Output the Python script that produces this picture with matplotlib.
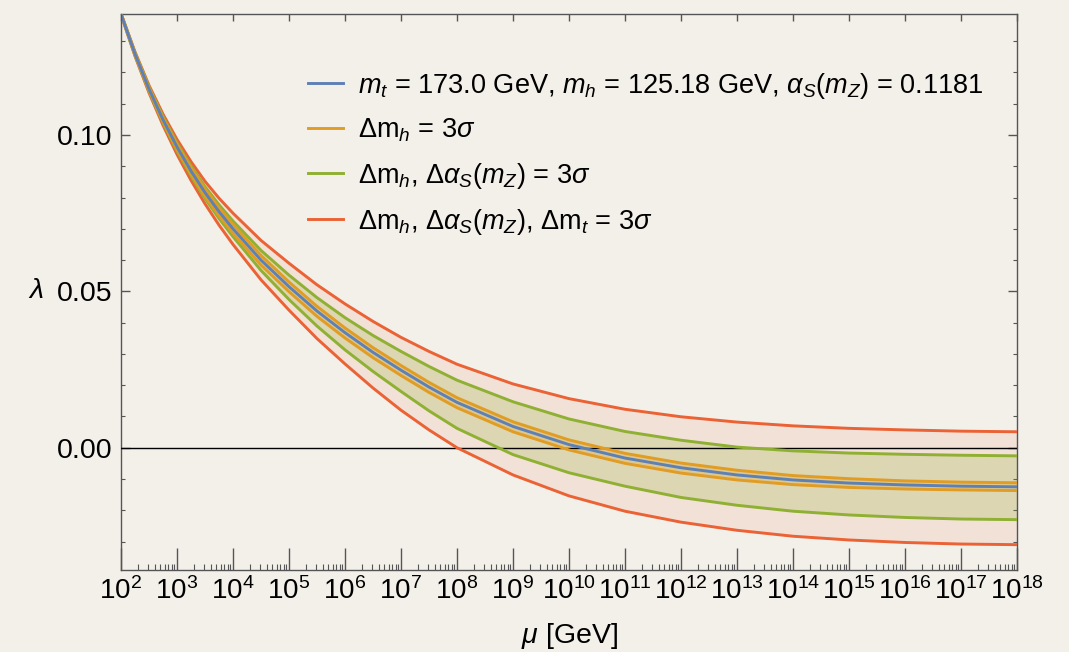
import numpy as np
import matplotlib
matplotlib.use("Agg")
import matplotlib.pyplot as plt
from matplotlib.ticker import LogLocator, NullFormatter, NullLocator, MultipleLocator, FixedLocator, FormatStrFormatter

# Mathematica-like look: Helvetica-ish font, math in the same family
plt.rcParams['font.family'] = 'Liberation Sans'
plt.rcParams['mathtext.fontset'] = 'custom'
plt.rcParams['mathtext.rm'] = 'Liberation Sans'
plt.rcParams['mathtext.it'] = 'Liberation Sans:italic'
plt.rcParams['mathtext.bf'] = 'Liberation Sans:bold'
plt.rcParams['mathtext.sf'] = 'Liberation Sans'

# log10(mu / GeV) sample points
mu_exp = [2, 2.25, 2.5, 2.75, 3, 3.25, 3.5, 3.75, 4, 4.5, 5, 5.5, 6, 6.5, 7, 7.5, 8,
          9, 10, 11, 12, 13, 14, 15, 16, 17, 18]

# central value
lam_central = [0.1387, 0.1259, 0.1147, 0.1049, 0.0962, 0.0885, 0.0816, 0.0755, 0.0700, 0.0600,
               0.0515, 0.0437, 0.0368, 0.0305, 0.0248, 0.0194, 0.0145, 0.0068, 0.0010, -0.0033,
               -0.0064, -0.0087, -0.0103, -0.0113, -0.0119, -0.0123, -0.0125]
# Delta m_h = 3 sigma
lam_mh_hi = [0.1388, 0.1261, 0.1151, 0.1055, 0.0970, 0.0895, 0.0828, 0.0768, 0.0714, 0.0615,
             0.0530, 0.0452, 0.0383, 0.0320, 0.0263, 0.0209, 0.0160, 0.0083, 0.0025, -0.0018,
             -0.0049, -0.0072, -0.0089, -0.0099, -0.0106, -0.0110, -0.0112]
lam_mh_lo = [0.1386, 0.1257, 0.1143, 0.1043, 0.0954, 0.0875, 0.0804, 0.0742, 0.0686, 0.0584,
             0.0499, 0.0420, 0.0351, 0.0288, 0.0231, 0.0177, 0.0128, 0.0051, -0.0007, -0.0050,
             -0.0081, -0.0103, -0.0118, -0.0127, -0.0132, -0.0135, -0.0137]
# Delta m_h, Delta alpha_s = 3 sigma
lam_as_hi = [0.1388, 0.1263, 0.1154, 0.1059, 0.0975, 0.0901, 0.0835, 0.0777, 0.0725, 0.0631,
             0.0552, 0.0480, 0.0416, 0.0359, 0.0308, 0.0260, 0.0216, 0.0147, 0.0092, 0.0052,
             0.0024, 0.0002, -0.0010, -0.0017, -0.0021, -0.0024, -0.0026]
lam_as_lo = [0.1386, 0.1255, 0.1140, 0.1039, 0.0949, 0.0869, 0.0797, 0.0733, 0.0675, 0.0567,
             0.0474, 0.0389, 0.0313, 0.0244, 0.0180, 0.0118, 0.0062, -0.0022, -0.0080, -0.0123,
             -0.0159, -0.0184, -0.0203, -0.0215, -0.0223, -0.0228, -0.0230]
# Delta m_h, Delta alpha_s, Delta m_t = 3 sigma
lam_mt_hi = [0.1389, 0.1266, 0.1159, 0.1067, 0.0986, 0.0915, 0.0852, 0.0798, 0.0750, 0.0663,
             0.0590, 0.0521, 0.0460, 0.0404, 0.0353, 0.0308, 0.0267, 0.0204, 0.0157, 0.0123,
             0.0099, 0.0082, 0.0070, 0.0062, 0.0057, 0.0053, 0.0051]
lam_mt_lo = [0.1385, 0.1252, 0.1135, 0.1031, 0.0938, 0.0855, 0.0780, 0.0712, 0.0650, 0.0537,
             0.0440, 0.0349, 0.0268, 0.0191, 0.0120, 0.0057, 0.0000, -0.0087, -0.0154, -0.0203,
             -0.0238, -0.0264, -0.0283, -0.0295, -0.0303, -0.0308, -0.0310]

labels = [r'$m_t$ = 173.0 GeV, $m_h$ = 125.18 GeV, $\alpha_S(m_Z)$ = 0.1181',
          r'$\Delta\mathrm{m}_h$ = 3$\sigma$',
          r'$\Delta\mathrm{m}_h$, $\Delta\alpha_S(m_Z)$ = 3$\sigma$',
          r'$\Delta\mathrm{m}_h$, $\Delta\alpha_S(m_Z)$, $\Delta\mathrm{m}_t$ = 3$\sigma$']

c_blue = '#5E81B5'
c_orange = '#E19C24'
c_green = '#8FB032'
c_red = '#EB6235'
bg = '#F3F0EA'

mu = 10.0 ** np.array(mu_exp)

fig = plt.figure(figsize=(10.69, 6.52), dpi=100, facecolor=bg)
ax = fig.add_axes([121 / 1069, 1 - 570 / 652, 896 / 1069, 556 / 652])
ax.set_facecolor(bg)

# shaded bands between the pairs of curves
ax.fill_between(mu, lam_mt_lo, lam_mt_hi, color=c_red, alpha=0.10, lw=0, zorder=1)
ax.fill_between(mu, lam_as_lo, lam_as_hi, color=c_green, alpha=0.22, lw=0, zorder=2)
ax.fill_between(mu, lam_mh_lo, lam_mh_hi, color=c_orange, alpha=0.25, lw=0, zorder=3)

ax.axhline(0, color='black', lw=1.0, zorder=4)

lw = 2.1
ax.plot(mu, lam_mt_hi, color=c_red, lw=lw, zorder=5, label=labels[3])
ax.plot(mu, lam_mt_lo, color=c_red, lw=lw, zorder=5)
ax.plot(mu, lam_as_hi, color=c_green, lw=lw, zorder=6, label=labels[2])
ax.plot(mu, lam_as_lo, color=c_green, lw=lw, zorder=6)
ax.plot(mu, lam_mh_hi, color=c_orange, lw=lw, zorder=7, label=labels[1])
ax.plot(mu, lam_mh_lo, color=c_orange, lw=lw, zorder=7)
ax.plot(mu, lam_central, color=c_blue, lw=lw, zorder=8, label=labels[0])

ax.set_xscale('log')
ax.set_xlim(1e2, 1e18)
ax.set_ylim(-0.0391, 0.1387)

frame = '#555555'
for s in ax.spines.values():
    s.set_color(frame)
    s.set_linewidth(1.0)

ax.xaxis.set_major_locator(LogLocator(base=10, numticks=30))
ax.xaxis.set_minor_locator(LogLocator(base=10, subs=np.arange(2, 10), numticks=300))
ax.xaxis.set_minor_formatter(NullFormatter())
ax.yaxis.set_major_locator(FixedLocator([0.0, 0.05, 0.10]))
ax.yaxis.set_minor_locator(MultipleLocator(0.01))
ax.yaxis.set_major_formatter(FormatStrFormatter('%.2f'))

ax.tick_params(axis='x', which='major', direction='in', length=16, width=1.0, color=frame,
               labelsize=20, pad=5, top=False)
ax.tick_params(axis='x', which='minor', direction='in', length=4.5, width=0.8, color=frame, top=False)
ax.tick_params(axis='y', which='major', direction='in', length=6.5, width=1.0, color=frame,
               labelsize=20.5, pad=6, right=True)
ax.tick_params(axis='y', which='minor', direction='in', length=3.2, width=0.8, color=frame, right=True)

# short decade ticks along the top frame
top = ax.twiny()
top.set_xscale('log')
top.set_xlim(ax.get_xlim())
top.xaxis.set_major_locator(LogLocator(base=10, numticks=30))
top.xaxis.set_minor_locator(NullLocator())
top.tick_params(axis='x', which='major', direction='in', length=5, width=1.0, color=frame,
                labeltop=False)
for s in top.spines.values():
    s.set_visible(False)

ax.set_xlabel(r'$\mu$ [GeV]', fontsize=20.5, labelpad=12)
ax.text(-0.095, 0.05, r'$\lambda$', transform=ax.get_yaxis_transform(), fontsize=20.5,
        ha='center', va='center')

handles, labs = ax.get_legend_handles_labels()
order = [3, 2, 1, 0]
ax.legend([handles[i] for i in order], [labs[i] for i in order], loc='upper left',
          bbox_to_anchor=(0.2087, 0.898), frameon=False, fontsize=19.5, handlelength=1.29,
          handletextpad=0.55, labelspacing=0.6, borderpad=0, borderaxespad=0)

fig.savefig('out.png', dpi=100, facecolor=bg)
